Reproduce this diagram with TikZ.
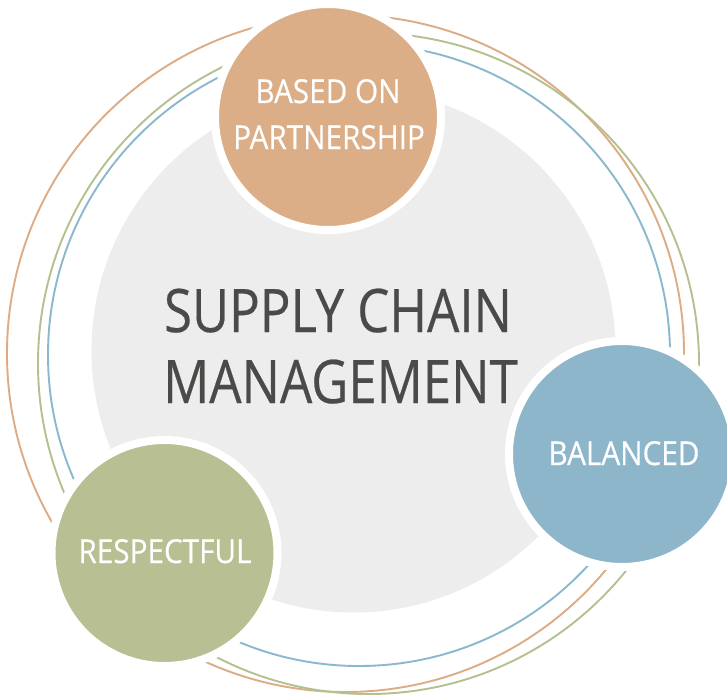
\documentclass[tikz,border=0pt]{standalone}
\usepackage{fontspec}
\setmainfont{Open Sans}
\newfontfamily\mainlabfont[FakeStretch=0.85,FakeBold=0.4]{Open Sans}
\newfontfamily\sublabfont[FakeStretch=0.9,FakeBold=0.4]{Open Sans}
\definecolor{graybg}{HTML}{EDEDED}
\definecolor{topC}{HTML}{DBAE88}
\definecolor{rightC}{HTML}{8DB6CA}
\definecolor{leftC}{HTML}{B7BF93}
\definecolor{ringO}{HTML}{DDAC85}
\definecolor{ringG}{HTML}{B5C08F}
\definecolor{ringB}{HTML}{8AB8CD}
\definecolor{darktext}{HTML}{4A4A48}
\begin{document}
\begin{tikzpicture}[x=1bp,y=-1bp,
  bubble/.style={circle, draw=white, line width=8bp, minimum size=226bp, inner sep=0pt},
  ring/.style={line width=1.9bp},
  sublab/.style={anchor=base, text=white, inner sep=0pt, font=\sublabfont\fontsize{33bp}{40bp}\selectfont},
  mainlab/.style={anchor=base, text=darktext, inner sep=0pt, font=\mainlabfont\fontsize{60bp}{70bp}\selectfont}]
\clip (0,0) rectangle (727,695);
\fill[white] (0,0) rectangle (727,695);
\fill[graybg] (353.5,350.5) circle[radius=262bp];
\draw[ring, ringO] (345.5,353.5) circle[radius=338.5bp];
\draw[ring, ringG] (368.5,363.5) circle[radius=330.5bp];
\draw[ring, ringB] (359,355) circle[radius=311bp];
\node[bubble, fill=topC] (top) at (328,117) {};
\node[bubble, fill=rightC] (right) at (622,454) {};
\node[bubble, fill=leftC] (left) at (164.5,553) {};
\node[mainlab] (m1) at (338,332) {SUPPLY CHAIN};
\node[mainlab] (m2) at (340.5,403) {MANAGEMENT};
\node[sublab] (t1) at (328,103) {BASED ON};
\node[sublab] (t2) at (329,149) {PARTNERSHIP};
\node[sublab] (r1) at (624,465) {BALANCED};
\node[sublab] (l1) at (165,563) {RESPECTFUL};
\end{tikzpicture}
\end{document}
